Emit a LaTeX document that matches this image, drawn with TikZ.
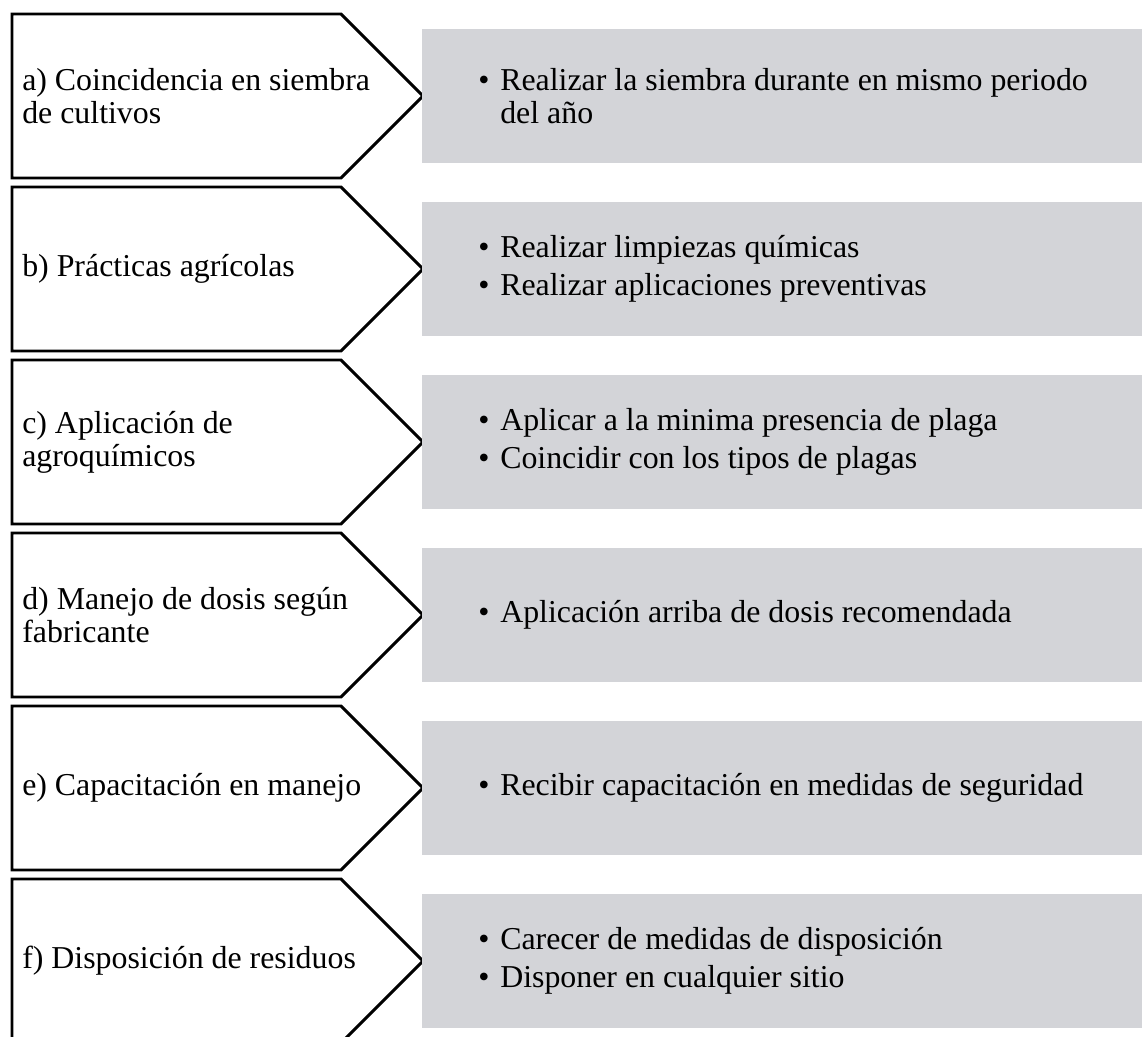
\documentclass[tikz,border=0pt]{standalone}
\usepackage{fontspec}
\setmainfont{Liberation Serif}
\definecolor{boxgray}{RGB}{211,212,216}
\newcommand{\bul}{\makebox[16.5pt][l]{\textbullet}}
\newcommand{\cont}{\hspace*{16.5pt}}

\begin{document}
\begin{tikzpicture}[
		x=0.75pt, y=-0.75pt,
		every node/.style={font=\fontsize{23.9pt}{24.75pt}\selectfont, inner sep=0pt, align=left, anchor=west},
		chevron/.style={draw, line width=2.2pt, line join=miter},
		greybox/.style={fill=boxgray}
	]
	\useasboundingbox (0, 0) rectangle (1142, 1036);
	\clip (0, 0) rectangle (1142, 1036);

	% a
	\draw[chevron] (12, 14) -- (341, 14) -- (423, 96) -- (341, 178) -- (12, 178) -- cycle;
	\fill[greybox] (422, 29) rectangle (1142, 163);
	\node (labA) at (22, 96) {a) Coincidencia en siembra\\de cultivos};
	\node (itmA) at (478, 96) {\bul Realizar la siembra durante en mismo periodo\\\cont del año};

	% b
	\draw[chevron] (12, 187) -- (341, 187) -- (423, 269) -- (341, 351) -- (12, 351) -- cycle;
	\fill[greybox] (422, 202) rectangle (1142, 336);
	\node (labB) at (22, 269) {b) Prácticas agrícolas};
	\node (itmB) at (478, 269) {\bul Realizar limpiezas químicas\\[3.75pt]\bul Realizar aplicaciones preventivas};

	% c
	\draw[chevron] (12, 360) -- (341, 360) -- (423, 442) -- (341, 524) -- (12, 524) -- cycle;
	\fill[greybox] (422, 375) rectangle (1142, 509);
	\node (labC) at (22, 442) {c) Aplicación de\\agroquímicos};
	\node (itmC) at (478, 442) {\bul Aplicar a la minima presencia de plaga\\[3.75pt]\bul Coincidir con los tipos de plagas};

	% d
	\draw[chevron] (12, 533) -- (341, 533) -- (423, 615) -- (341, 697) -- (12, 697) -- cycle;
	\fill[greybox] (422, 548) rectangle (1142, 682);
	\node (labD) at (22, 615) {d) Manejo de dosis según\\fabricante};
	\node (itmD) at (478, 615) {\bul Aplicación arriba de dosis recomendada};

	% e
	\draw[chevron] (12, 706) -- (341, 706) -- (423, 788) -- (341, 870) -- (12, 870) -- cycle;
	\fill[greybox] (422, 721) rectangle (1142, 855);
	\node (labE) at (22, 788) {e) Capacitación en manejo};
	\node (itmE) at (478, 788) {\bul Recibir capacitación en medidas de seguridad};

	% f
	\draw[chevron] (12, 879) -- (341, 879) -- (423, 961) -- (341, 1043) -- (12, 1043) -- cycle;
	\fill[greybox] (422, 894) rectangle (1142, 1028);
	\node (labF) at (22, 961) {f) Disposición de residuos};
	\node (itmF) at (478, 961) {\bul Carecer de medidas de disposición\\[3.75pt]\bul Disponer en cualquier sitio};
\end{tikzpicture}
\end{document}
